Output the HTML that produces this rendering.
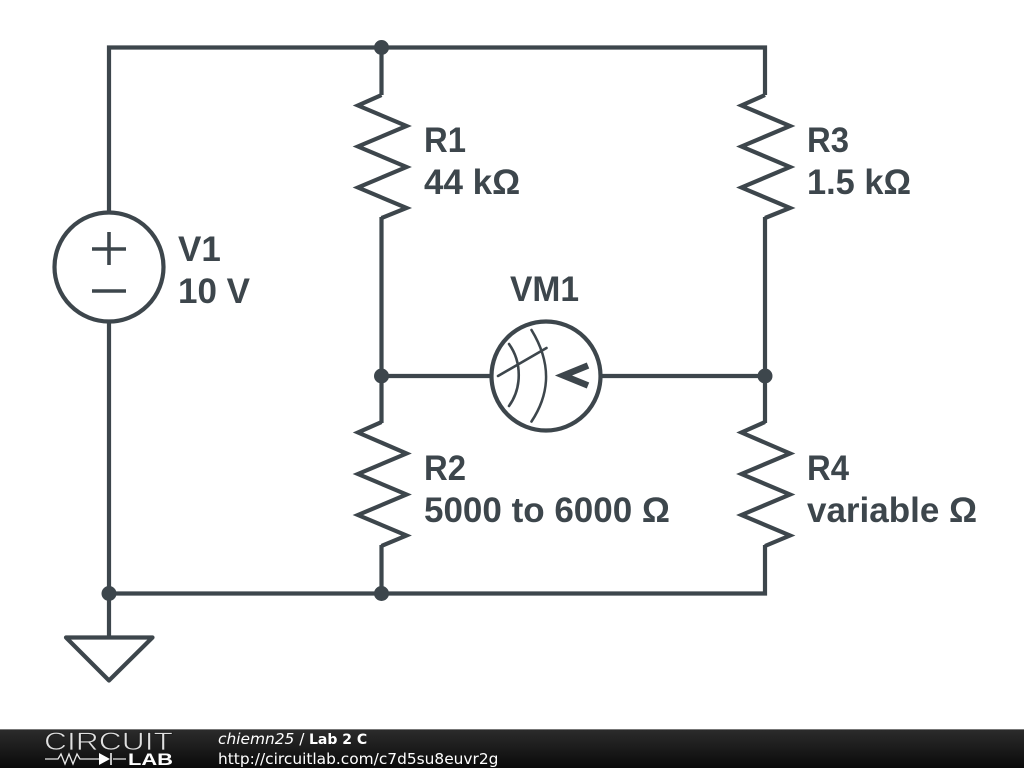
<!DOCTYPE html>
<html><head><meta charset="utf-8"><style>
html,body{margin:0;padding:0;background:#fff}
svg{display:block}
.l{font-family:"Liberation Sans",Arial,sans-serif;font-weight:700;font-size:35px;fill:#3d464c}
.f{font-family:"DejaVu Sans",sans-serif;font-size:15.4px;fill:#fff}
</style></head><body>
<svg width="1024" height="768" viewBox="0 0 1024 768" xmlns="http://www.w3.org/2000/svg">
<defs><linearGradient id="g" x1="0" y1="0" x2="0" y2="1"><stop offset="0" stop-color="#2c2c2c"/><stop offset="1" stop-color="#0a0a0a"/></linearGradient></defs>
<rect width="1024" height="768" fill="#fff"/>
<g fill="none" stroke="#3d464c" stroke-width="4.2" stroke-linejoin="miter">
<path d="M109 212V47.500H765V95M381.500 47.500V95M381.500 217V423M381.500 545V593.500M109 322V637M109 593.500H765V545M765 217V423M381.500 376H491M601 376H765"/>
<path d="M381.500 95L358 105.500L406.500 126L358 146.500L406.500 167L358 187.500L406.500 208L381.500 218"/>
<path d="M381.500 422L358 432.500L406.500 453.500L358 474L406.500 494.500L358 515L406.500 535.500L381.500 546"/>
<path d="M765 95L741.500 105.500L790 126L741.500 146.500L790 167L741.500 187.500L790 208L765 218"/>
<path d="M765 422L741.500 432.500L790 453.500L741.500 474L790 494.500L741.500 515L790 535.500L765 546"/>
<circle cx="109" cy="267" r="54.500"/>
<circle cx="546" cy="376" r="54.500"/>
<path d="M66 637.500H152.500L109 680.500Z" stroke-linejoin="round"/>
<path d="M92 249H126M109 232V265M92 291H126" stroke-width="3.600"/>
<path d="M531.500 330C551 362 551 392 531.500 421.500M509 344C522 362 522 388 509 406M498 376L546.500 348" stroke-width="2.600" stroke-linecap="round"/>
<path d="M588 365.500L563.500 375.500L588 385.500" stroke-width="6.500"/>
</g>
<g fill="#3d464c"><circle cx="381.500" cy="47.500" r="7.500"/><circle cx="381.500" cy="376" r="7.500"/><circle cx="765" cy="376" r="7.500"/><circle cx="109" cy="593.500" r="7.500"/><circle cx="381.500" cy="593.500" r="7.500"/></g>
<text class="l" x="424" y="152" textLength="42" lengthAdjust="spacingAndGlyphs">R1</text><text class="l" x="424" y="194">44 kΩ</text>
<text class="l" x="807" y="152" textLength="42" lengthAdjust="spacingAndGlyphs">R3</text><text class="l" x="807" y="194" textLength="104" lengthAdjust="spacingAndGlyphs">1.5 kΩ</text>
<text class="l" x="178" y="261">V1</text><text class="l" x="178" y="303">10 V</text>
<text class="l" x="510" y="301" textLength="69" lengthAdjust="spacingAndGlyphs">VM1</text>
<text class="l" x="424" y="480" textLength="42" lengthAdjust="spacingAndGlyphs">R2</text><text class="l" x="424" y="522">5000 to 6000 Ω</text>
<text class="l" x="807" y="480" textLength="42" lengthAdjust="spacingAndGlyphs">R4</text><text class="l" x="807" y="522">variable Ω</text>
<rect x="0" y="729" width="1024" height="39" fill="url(#g)"/>
<rect x="0" y="729" width="1024" height="1" fill="#777"/>
<text x="44" y="750" font-family="Liberation Sans,sans-serif" font-size="25" fill="#e0e0e0" stroke="#1c1c1c" stroke-width="0.7" textLength="129" lengthAdjust="spacingAndGlyphs">CIRCUIT</text>
<text x="128" y="765" font-family="Liberation Sans,sans-serif" font-weight="700" font-size="17" fill="#fff" textLength="45" lengthAdjust="spacingAndGlyphs">LAB</text>
<path d="M45 759H58L61 754L65 764L69 754L73 764L77 754L80 759H99M113 759H126" fill="none" stroke="#e8e8e8" stroke-width="1.300"/>
<path d="M99 753V765L110 759Z" fill="#fff"/><path d="M111 753V765" stroke="#fff" stroke-width="1.500"/>
<text class="f" x="218" y="744"><tspan font-style="italic">chiemn25</tspan> / <tspan x="309" font-weight="700" font-size="14">Lab 2 C</tspan></text>
<text class="f" x="218" y="764">http://circuitlab.com/c7d5su8euvr2g</text>
</svg>
</body></html>
